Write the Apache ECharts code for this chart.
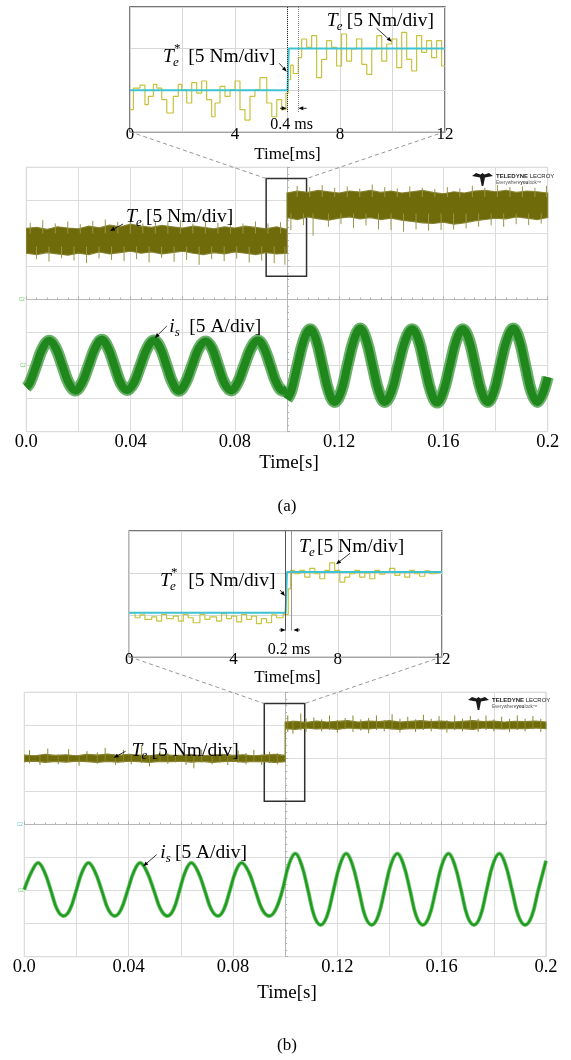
<!DOCTYPE html>
<html>
<head>
<meta charset="utf-8">
<script src="https://cdn.jsdelivr.net/npm/echarts@6/dist/echarts.min.js"></script>
<style>
html, body { margin: 0; padding: 0; background: #fff; }
#c { width: 571px; height: 1060px; }
</style>
</head>
<body>
<div id="c"></div>
<script>
// ---------------- data ----------------
// Zoomed views: time in ms, torque in divisions (sample-and-hold trace)
const insetTickLabels = ['0', '4', '8', '12'];
const mainTickLabels = ['0.0', '0.04', '0.08', '0.12', '0.16', '0.2'];

const insetA_t = [0,0.13,0.38,0.57,0.70,0.89,1.02,1.21,1.40,1.65,1.84,1.97,2.16,2.35,2.54,2.73,2.92,3.11,3.24,3.43,3.62,3.81,4.00,4.19,4.38,4.57,4.76,4.95,5.21,5.40,5.59,5.78,5.94,6.03,6.12,6.22,6.41,6.54,6.73,6.92,7.11,7.30,7.49,7.68,7.87,8.06,8.25,8.44,8.63,8.83,9.02,9.21,9.40,9.59,9.78,9.97,10.16,10.35,10.54,10.73,10.92,11.11,11.30,11.49,11.68,11.87,12];
const insetA_Te = [0.53,1.05,1.12,0.65,0.85,1.14,1.05,0.77,0.45,0.85,1.14,1.01,0.69,1.18,0.93,1.22,0.77,0.36,0.69,1.09,0.85,1.01,1.22,0.53,0.28,0.85,1.01,1.30,0.69,0.36,0.77,0.53,0.93,1.25,1.60,1.40,1.78,2.23,2.03,2.31,1.30,1.74,2.19,2.03,1.58,2.35,1.70,1.99,2.23,1.62,1.38,1.99,2.31,1.70,2.11,2.23,1.54,2.39,1.74,1.46,2.31,1.91,2.19,1.78,2.19,1.58,1.58];
const insetA_refT = [0, 6.0, 6.05, 12];
const insetA_ref = [1, 1, 2, 2];
const insetA_marks = [6.0, 6.4];

const insetB_t = [0,0.22,0.41,0.60,0.86,1.05,1.24,1.43,1.69,1.88,2.07,2.26,2.45,2.71,2.90,3.09,3.35,3.54,3.73,3.92,4.12,4.31,4.50,4.69,4.88,5.07,5.27,5.46,5.65,5.90,6.10,6.19,6.35,6.54,6.73,6.93,7.12,7.31,7.50,7.69,7.88,8.08,8.27,8.46,8.65,8.84,9.04,9.23,9.42,9.61,9.80,9.99,10.19,10.38,10.57,10.76,10.95,11.14,11.34,11.53,11.72,12];
const insetB_Te = [1.05,0.93,1.00,0.89,0.95,0.85,1.01,0.91,0.97,0.85,1.01,0.93,0.81,1.01,0.89,0.95,0.85,1.03,0.91,0.97,0.83,1.01,0.89,0.97,0.79,0.91,0.81,1.00,0.93,1.01,1.62,2.06,1.98,2.06,1.90,2.11,1.98,1.86,2.06,2.24,2.06,1.78,1.90,1.98,2.06,1.90,2.00,1.86,2.06,1.97,2.02,2.11,1.94,2.02,1.90,2.06,1.98,1.92,2.05,1.98,2.02,2.02];
const insetB_refT = [0, 6.0, 6.05, 12];
const insetB_ref = [1.05, 1.05, 2.02, 2.02];
const insetB_marks = [6.0, 6.2];

// Scope captures: time in s, values in divisions from screen centre
const bandT = [0,0.004,0.008,0.012,0.016,0.02,0.024,0.028,0.032,0.036,0.04,0.044,0.048,0.052,0.056,0.06,0.064,0.068,0.072,0.076,0.08,0.084,0.088,0.092,0.096,0.1,
               0.1,0.104,0.108,0.112,0.116,0.12,0.124,0.128,0.132,0.136,0.14,0.144,0.148,0.152,0.156,0.16,0.164,0.168,0.172,0.176,0.18,0.184,0.188,0.192,0.196,0.2];
const torqueA_hi = [2.15,2.18,2.12,2.2,2.16,2.14,2.22,2.17,2.25,2.2,2.28,2.22,2.18,2.24,2.2,2.16,2.22,2.18,2.14,2.2,2.16,2.22,2.18,2.14,2.2,2.12,
                    3.22,3.28,3.24,3.3,3.26,3.22,3.28,3.25,3.3,3.24,3.28,3.22,3.26,3.3,3.24,3.2,3.26,3.22,3.28,3.3,3.26,3.3,3.24,3.28,3.26,3.22];
const torqueA_lo = [1.4,1.36,1.42,1.38,1.34,1.4,1.36,1.44,1.38,1.42,1.46,1.4,1.44,1.38,1.42,1.46,1.4,1.36,1.42,1.38,1.44,1.4,1.36,1.42,1.38,1.4,
                    2.48,2.42,2.5,2.44,2.4,2.46,2.5,2.44,2.48,2.42,2.46,2.4,2.36,2.32,2.3,2.34,2.28,2.32,2.38,2.42,2.46,2.44,2.5,2.46,2.42,2.48];
// noise excursions outside the dense band: [t, low, high]
const torqueA_spikes = [
  [0.0015,2.0,2.32],[0.0039,1.22,1.6],[0.0063,2.0,2.4],[0.0087,1.15,1.6],[0.0111,2.0,2.3],[0.0135,1.25,1.6],[0.0159,2.0,2.36],[0.0183,1.18,1.6],[0.0207,2.0,2.28],[0.0231,1.1,1.6],
  [0.0255,2.0,2.38],[0.0279,1.24,1.6],[0.0303,2.0,2.42],[0.0327,1.2,1.6],[0.0351,2.0,2.35],[0.0375,1.16,1.6],[0.0399,2.0,2.44],[0.0423,1.22,1.6],[0.0447,2.0,2.3],[0.0471,1.12,1.6],
  [0.0495,2.0,2.38],[0.0519,1.26,1.6],[0.0543,2.0,2.34],[0.0567,1.14,1.6],[0.0591,2.0,2.4],[0.0615,1.2,1.6],[0.0639,2.0,2.3],[0.0663,1.05,1.6],[0.0687,2.0,2.36],[0.0711,1.22,1.6],
  [0.0735,2.0,2.32],[0.0759,1.16,1.6],[0.0783,2.0,2.4],[0.0807,1.24,1.6],[0.0831,2.0,2.3],[0.0855,1.12,1.6],[0.0879,2.0,2.36],[0.0903,1.18,1.6],[0.0927,2.0,2.3],[0.0951,1.1,1.6],
  [0.0975,2.0,2.34],[0.0992,1.05,1.6],
  [0.1015,2.1,2.6],[0.1039,3.1,3.44],[0.1063,2.25,2.6],[0.1087,3.1,3.4],[0.1100,1.93,2.6],[0.1135,3.1,3.46],[0.1159,2.2,2.6],[0.1183,3.1,3.38],[0.1207,2.28,2.6],[0.1231,3.1,3.42],
  [0.1255,2.16,2.6],[0.1279,3.1,3.36],[0.1303,2.24,2.6],[0.1327,3.1,3.48],[0.1351,2.12,2.6],[0.1375,3.1,3.4],[0.1399,2.1,2.6],[0.1423,3.1,3.36],[0.1447,2.05,2.6],[0.1471,3.1,3.42],
  [0.1495,2.12,2.6],[0.1519,3.1,3.38],[0.1543,2.08,2.6],[0.1567,3.1,3.35],[0.1591,2.1,2.6],[0.1615,3.1,3.4],[0.1639,2.12,2.6],[0.1663,3.1,3.36],[0.1687,2.15,2.6],[0.1711,3.1,3.44],
  [0.1735,2.2,2.6],[0.1759,3.1,3.38],[0.1783,2.24,2.6],[0.1807,3.1,3.46],[0.1831,2.2,2.6],[0.1855,3.1,3.4],[0.1879,2.28,2.6],[0.1903,3.1,3.42],[0.1927,2.25,2.6],[0.1951,3.1,3.38],
  [0.1975,2.3,2.6],[0.1995,3.1,3.44]];

const torqueB_hi = [2.1,2.08,2.12,2.09,2.11,2.08,2.12,2.1,2.13,2.09,2.12,2.1,2.08,2.12,2.1,2.09,2.12,2.08,2.1,2.12,2.09,2.11,2.08,2.1,2.12,2.09,
                    3.1,3.12,3.09,3.13,3.1,3.12,3.14,3.1,3.13,3.11,3.14,3.1,3.12,3.14,3.11,3.13,3.1,3.12,3.14,3.11,3.13,3.1,3.12,3.11,3.13,3.1];
const torqueB_lo = [1.9,1.92,1.88,1.91,1.89,1.92,1.9,1.88,1.91,1.89,1.92,1.9,1.88,1.91,1.9,1.92,1.89,1.91,1.88,1.9,1.92,1.89,1.91,1.9,1.88,1.9,
                    2.9,2.88,2.92,2.89,2.91,2.88,2.92,2.9,2.89,2.92,2.9,2.88,2.91,2.9,2.92,2.89,2.91,2.9,2.88,2.92,2.9,2.89,2.91,2.9,2.92,2.9];
const torqueB_spikes = [[0.002,1.85,2.25],[0.006,1.8,2.1],[0.009,1.9,2.3],[0.013,1.82,2.12],[0.017,1.88,2.28],[0.021,1.78,2.1],[0.024,1.9,2.22],[0.028,1.84,2.18],[0.031,1.9,2.32],[0.035,1.8,2.1],[0.038,1.88,2.26],[0.041,1.82,2.14],[0.045,1.86,2.4],[0.048,1.76,2.1],[0.052,1.9,2.24],[0.055,1.84,2.16],[0.058,1.88,2.3],[0.062,1.8,2.12],[0.065,1.7,2.1],[0.068,1.88,2.26],[0.072,1.82,2.14],[0.075,1.88,2.28],[0.078,1.8,2.12],[0.082,1.86,2.24],[0.085,1.82,2.16],[0.088,1.9,2.26],[0.091,1.8,2.12],[0.094,1.86,2.2],[0.097,1.82,2.16],
                        [0.101,2.8,3.3],[0.103,2.75,3.15],[0.106,2.85,3.36],[0.108,2.8,3.2],[0.111,2.88,3.24],[0.114,2.82,3.18],[0.117,2.86,3.3],[0.12,2.78,3.16],[0.123,2.88,3.22],[0.126,2.8,3.3],[0.129,2.84,3.18],[0.132,2.76,3.22],[0.135,2.86,3.3],[0.138,2.82,3.16],[0.141,2.86,3.34],[0.144,2.78,3.2],[0.147,2.88,3.26],[0.15,2.8,3.18],[0.153,2.86,3.32],[0.156,2.82,3.2],[0.159,2.88,3.28],[0.162,2.78,3.16],[0.165,2.86,3.3],[0.168,2.82,3.2],[0.171,2.88,3.28],[0.174,2.8,3.2],[0.177,2.86,3.3],[0.18,2.82,3.18],[0.183,2.88,3.26],[0.186,2.8,3.2],[0.189,2.86,3.3],[0.192,2.82,3.2],[0.195,2.88,3.28],[0.198,2.8,3.2]];

const currentA_preT = [0,0.0013,0.0038,0.0063,0.0088,0.0113,0.0138,0.0163,0.0188,0.0213,0.0239,0.0264,0.0290,0.0314,0.0338,0.0362,0.0386,0.0412,0.0438,0.0464,0.0490,0.0514,0.0538,0.0562,0.0585,0.0610,0.0636,0.0662,0.0688,0.0712,0.0736,0.0760,0.0785,0.0810,0.0836,0.0862,0.0888,0.0912,0.0936,0.0960,0.0985,0.1];
const currentA_pre  = [-2.66,-2.53,-2.0,-1.47,-1.25,-1.47,-2.0,-2.53,-2.75,-2.53,-2.0,-1.47,-1.22,-1.47,-2.0,-2.53,-2.74,-2.53,-2.0,-1.47,-1.24,-1.47,-2.0,-2.53,-2.76,-2.53,-2.0,-1.47,-1.27,-1.47,-2.0,-2.53,-2.75,-2.53,-2.0,-1.47,-1.24,-1.47,-2.0,-2.53,-2.76,-2.72];
const currentA_postT = [0.1,0.1016,0.1040,0.1065,0.1089,0.1112,0.1136,0.1160,0.1183,0.1208,0.1232,0.1257,0.1281,0.1304,0.1328,0.1352,0.1375,0.1401,0.1427,0.1454,0.1480,0.1504,0.1528,0.1552,0.1576,0.1600,0.1625,0.1650,0.1674,0.1698,0.1722,0.1746,0.1770,0.1794,0.1818,0.1843,0.1868,0.1891,0.1914,0.1937,0.1960,0.2];
const currentA_post  = [-3.02,-2.78,-2.0,-1.22,-0.9,-1.22,-2.0,-2.78,-3.1,-2.78,-2.0,-1.22,-0.88,-1.22,-2.0,-2.78,-3.1,-2.78,-2.0,-1.22,-0.9,-1.22,-2.0,-2.78,-3.12,-2.78,-2.0,-1.22,-0.9,-1.22,-2.0,-2.78,-3.1,-2.78,-2.0,-1.22,-0.88,-1.22,-2.0,-2.78,-3.1,-2.35];

const currentB_t = [0,0.0028,0.0053,0.0077,0.0102,0.0126,0.0151,0.0175,0.0199,0.0222,0.0246,0.0271,0.0297,0.0322,0.0347,0.0371,0.0396,0.0420,0.0444,0.0470,0.0497,0.0523,0.0549,0.0572,0.0595,0.0617,0.0640,0.0666,0.0692,0.0717,0.0743,0.0765,0.0788,0.0810,0.0833,0.0860,0.0886,0.0912,0.0939,0.0964,0.0989,
                    0.1014,0.1039,0.1063,0.1088,0.1112,0.1136,0.1160,0.1185,0.1210,0.1234,0.1258,0.1283,0.1307,0.1332,0.1356,0.1381,0.1405,0.1430,0.1454,0.1479,0.1503,0.1528,0.1552,0.1577,0.1601,0.1626,0.1650,0.1675,0.1699,0.1724,0.1748,0.1772,0.1796,0.1821,0.1845,0.1870,0.1895,0.1920,0.1945,0.1970,0.2];
const currentB   = [-1.97,-1.43,-1.16,-1.43,-2.0,-2.57,-2.77,-2.57,-2.0,-1.43,-1.16,-1.43,-2.0,-2.57,-2.77,-2.57,-2.0,-1.43,-1.16,-1.43,-2.0,-2.57,-2.77,-2.57,-2.0,-1.43,-1.16,-1.43,-2.0,-2.57,-2.77,-2.57,-2.0,-1.43,-1.16,-1.43,-2.0,-2.57,-2.77,-2.57,-2.0,
                    -1.22,-0.88,-1.22,-2.0,-2.78,-3.04,-2.78,-2.0,-1.22,-0.88,-1.22,-2.0,-2.78,-3.04,-2.78,-2.0,-1.22,-0.88,-1.22,-2.0,-2.78,-3.04,-2.78,-2.0,-1.22,-0.88,-1.22,-2.0,-2.78,-3.04,-2.78,-2.0,-1.22,-0.88,-1.22,-2.0,-2.78,-3.04,-2.78,-2.0,-1.1];

// zoom window marked on each capture [t0, t1] and [y0, y1]
const zoomWinT = [0.092, 0.1075];
const zoomWinY = [0.7, 3.66];

// ---------------- helpers ----------------
const FONT = 'Liberation Serif';
const zip = (t, v) => t.map((x, i) => [x, v[i]]);

function tickFmt(labels, step) {
  return v => { const k = v / step, r = Math.round(k); return Math.abs(k - r) < 1e-6 ? (labels[r] || '') : ''; };
}

function insetX(gi) {
  return { type: 'value', gridIndex: gi, min: 0, max: 12, interval: 2,
    axisLine: { show: false }, axisTick: { show: false },
    splitLine: { show: true, lineStyle: { color: '#d6d6d6', width: 1 } },
    axisLabel: { margin: -6, color: '#000', fontFamily: FONT, fontSize: 17,
      showMinLabel: true, showMaxLabel: true, hideOverlap: false,
      formatter: tickFmt(insetTickLabels, 4) } };
}
function insetY(gi) {
  return { type: 'value', gridIndex: gi, min: 0, max: 3, interval: 1,
    axisLine: { show: false }, axisTick: { show: false }, axisLabel: { show: false },
    splitLine: { show: true, lineStyle: { color: '#d6d6d6', width: 1 } } };
}
function mainX(gi) {
  return { type: 'value', gridIndex: gi, min: 0, max: 0.2, interval: 0.02,
    axisLine: { show: false, onZero: false }, axisTick: { show: false },
    splitLine: { show: true, lineStyle: { color: '#dcdcdc', width: 1 } },
    axisLabel: { margin: 1, color: '#000', fontFamily: FONT, fontSize: 18.5,
      showMinLabel: true, showMaxLabel: true, hideOverlap: false,
      formatter: tickFmt(mainTickLabels, 0.04) } };
}
function centreX(gi, yIdx) {
  return { type: 'value', gridIndex: gi, min: 0, max: 0.2, interval: 0.02,
    axisLine: { show: true, onZero: true, onZeroAxisIndex: yIdx, lineStyle: { color: '#b8b8b8', width: 1 } },
    axisTick: { show: true, length: 3, lineStyle: { color: '#b0b0b0' } },
    minorTick: { show: true, splitNumber: 5, length: 2, lineStyle: { color: '#b0b0b0' } },
    axisLabel: { show: false }, splitLine: { show: false } };
}
function hiddenX(gi) {
  return { type: 'value', gridIndex: gi, min: -0.1, max: 0.1, show: false };
}
function mainY(gi) {
  return { type: 'value', gridIndex: gi, min: -4, max: 4, interval: 1,
    axisLine: { show: false, onZero: false }, axisTick: { show: false }, axisLabel: { show: false },
    splitLine: { show: true, lineStyle: { color: '#dcdcdc', width: 1 } } };
}
function centreY(gi, xIdx) {
  return { type: 'value', gridIndex: gi, min: -4, max: 4, interval: 1,
    axisLine: { show: true, onZero: true, onZeroAxisIndex: xIdx, lineStyle: { color: '#b8b8b8', width: 1 } },
    axisTick: { show: true, length: 3, lineStyle: { color: '#b0b0b0' } },
    minorTick: { show: true, splitNumber: 5, length: 2, lineStyle: { color: '#b0b0b0' } },
    axisLabel: { show: false }, splitLine: { show: false } };
}

function bandSeries(xi, yi, t, lo, hi, fill, stroke) {
  return { type: 'custom', xAxisIndex: xi, yAxisIndex: yi, z: 2, silent: true, clip: true,
    data: [[t[0], lo[0]]],
    renderItem: (params, api) => {
      const pts = [];
      for (let i = 0; i < t.length; i++) pts.push(api.coord([t[i], hi[i]]));
      for (let i = t.length - 1; i >= 0; i--) pts.push(api.coord([t[i], lo[i]]));
      return { type: 'polygon', shape: { points: pts }, style: { fill: fill, stroke: stroke, lineWidth: 1.2 } };
    } };
}
function spikeSeries(xi, yi, spikes, color) {
  return { type: 'custom', xAxisIndex: xi, yAxisIndex: yi, z: 2, silent: true, clip: true,
    data: spikes, encode: { x: 0, y: [1, 2] },
    renderItem: (params, api) => {
      const a = api.coord([api.value(0), api.value(1)]);
      const b = api.coord([api.value(0), api.value(2)]);
      return { type: 'line', shape: { x1: a[0], y1: a[1], x2: b[0], y2: b[1] }, style: { stroke: color, lineWidth: 1 } };
    } };
}
function traceLine(xi, yi, data, color, width, z, extra) {
  return Object.assign({ type: 'line', xAxisIndex: xi, yAxisIndex: yi, data: data, symbol: 'none',
    silent: true, z: z, lineStyle: { color: color, width: width, cap: 'butt' }, animation: false }, extra || {});
}
function vMarks(times, yTop, yBot, colors, types) {
  return { silent: true, symbol: 'none', label: { show: false },
    data: times.map((t, i) => [
      { coord: [t, yTop], lineStyle: { color: colors[i], type: types[i], width: 1 } },
      { coord: [t, yBot] }]) };
}
function boxArea() {
  return { silent: true, label: { show: false },
    itemStyle: { color: 'rgba(0,0,0,0)', borderColor: '#303030', borderWidth: 1.5 },
    data: [[{ coord: [zoomWinT[0], zoomWinY[1]] }, { coord: [zoomWinT[1], zoomWinY[0]] }]] };
}

// axis indices
// x: 0 insetA, 1 mainA, 2 mainA centre, 3 mainA hidden, 4 insetB, 5 mainB, 6 mainB centre, 7 mainB hidden
// y: 0 insetA, 1 mainA, 2 mainA centre, 3 insetB, 4 mainB, 5 mainB centre
const option = {
  animation: false,
  backgroundColor: '#fff',
  grid: [
    { left: 130, top: 7, width: 315, height: 124.7, show: true, borderColor: '#4a4a4a', borderWidth: 1.4 },
    { left: 26.3, top: 167.3, width: 521.4, height: 264.4, show: true, borderColor: '#cdcdcd', borderWidth: 1 },
    { left: 129.3, top: 531, width: 312.7, height: 125.7, show: true, borderColor: '#4a4a4a', borderWidth: 1.4 },
    { left: 24.3, top: 692.3, width: 521.7, height: 264.4, show: true, borderColor: '#cdcdcd', borderWidth: 1 }
  ],
  xAxis: [insetX(0), mainX(1), centreX(1, 1), hiddenX(1), insetX(2), mainX(3), centreX(3, 4), hiddenX(3)],
  yAxis: [insetY(0), mainY(1), centreY(1, 3), insetY(2), mainY(3), centreY(3, 7)],
  series: [
    // zoomed view (a)
    traceLine(0, 0, zip(insetA_t, insetA_Te), '#c8c23e', 1.2, 3,
      { step: 'end', markLine: vMarks(insetA_marks, 3, 0.45, ['#333', '#888'], ['dotted', 'dotted']) }),
    traceLine(0, 0, zip(insetA_refT, insetA_ref), '#3ec3d3', 2, 4),
    // capture (a)
    bandSeries(1, 1, bandT, torqueA_lo, torqueA_hi, '#6f6a0a', 'rgba(128,124,40,0.9)'),
    spikeSeries(1, 1, torqueA_spikes, '#99954a'),
    traceLine(1, 1, zip(currentA_preT, currentA_pre), 'rgba(55,150,55,0.75)', 12, 4, { smooth: 0.4 }),
    traceLine(1, 1, zip(currentA_postT, currentA_post), 'rgba(55,150,55,0.75)', 12, 4, { smooth: 0.4 }),
    traceLine(1, 1, zip(currentA_preT, currentA_pre), '#1f871c', 8, 5, { smooth: 0.4, markArea: boxArea() }),
    traceLine(1, 1, zip(currentA_postT, currentA_post), '#1f871c', 8, 5, { smooth: 0.4 }),
    // zoomed view (b)
    traceLine(4, 3, zip(insetB_t, insetB_Te), '#c8c23e', 1.2, 3,
      { step: 'end', markLine: vMarks(insetB_marks, 3, 0.62, ['#555', '#999'], ['solid', 'solid']) }),
    traceLine(4, 3, zip(insetB_refT, insetB_ref), '#3ec3d3', 2, 4),
    // capture (b)
    bandSeries(5, 4, bandT, torqueB_lo, torqueB_hi, '#6f6a0a', '#85812e'),
    spikeSeries(5, 4, torqueB_spikes, '#8d8930'),
    traceLine(5, 4, zip(currentB_t, currentB), 'rgba(70,175,70,0.7)', 4, 4, { smooth: 0.4 }),
    traceLine(5, 4, zip(currentB_t, currentB), '#1f9c1f', 2.4, 5, { smooth: 0.4, markArea: boxArea() })
  ]
};

const chart = echarts.init(document.getElementById('c'), null, { renderer: 'canvas', width: 571, height: 1060 });
chart.setOption(option);

// ---------------- annotations ----------------
const els = [];
function txt(x, y, text, size, opts) {
  els.push({ type: 'text', x: x, y: y, silent: true, z: 20,
    style: Object.assign({ text: text, fill: '#000', fontFamily: FONT, fontSize: size,
      align: 'left', verticalAlign: 'middle' }, (opts && opts.style) || {}) });
}
function arrow(x1, y1, x2, y2) {
  const dx = x2 - x1, dy = y2 - y1, L = Math.hypot(dx, dy), ux = dx / L, uy = dy / L;
  const hl = 5, hw = 2;
  const bx = x2 - ux * hl, by = y2 - uy * hl;
  els.push({ type: 'line', silent: true, z: 20, shape: { x1: x1, y1: y1, x2: bx, y2: by },
    style: { stroke: '#000', lineWidth: 0.8 } });
  els.push({ type: 'polygon', silent: true, z: 20,
    shape: { points: [[x2, y2], [bx - uy * hw, by + ux * hw], [bx + uy * hw, by - ux * hw]] },
    style: { fill: '#000' } });
}
// symbol with italic letter, subscript and optional superscript, then the scale text
function quantity(x, y, letter, sub, sup, rest, restX) {
  const it = { style: { fontStyle: 'italic' } };
  txt(x, y, letter, 19.5, it);
  const lw = letter === 'T' ? 10 : 5.5;
  txt(x + lw, y + 5.5, sub, 13, it);
  if (sup) txt(x + lw + 1, y - 8, sup, 13);
  txt(restX, y, rest, 19.5);
}
function centred(x, y, text, size) {
  txt(x, y, text, size, { style: { align: 'center' } });
}
function logo(x, y) {
  els.push({ type: 'polygon', silent: true, z: 20, x: x, y: y,
    shape: { points: [[0,3],[4,0],[8.5,1.5],[10.5,0],[12.5,1.5],[17,0],[21,3],[13,4.5],[11.3,13],[9.7,13],[8,4.5]] },
    style: { fill: '#1a1a1a' } });
  els.push({ type: 'text', silent: true, z: 20, x: x + 24, y: y + 3.5,
    style: { text: '{b|TELEDYNE} LECROY', fill: '#222', fontFamily: 'Liberation Sans', fontSize: 6,
      verticalAlign: 'middle', rich: { b: { fontWeight: 'bold', fontSize: 6, fill: '#222', fontFamily: 'Liberation Sans' } } } });
  els.push({ type: 'text', silent: true, z: 20, x: x + 24, y: y + 9.5,
    style: { text: 'Everywhere{b|you}look\u2122', fill: '#555', fontFamily: 'Liberation Sans', fontSize: 4.6,
      verticalAlign: 'middle', rich: { b: { fontWeight: 'bold', fontSize: 4.6, fill: '#444', fontFamily: 'Liberation Sans' } } } });
}
function chMark(x, y, color) {
  txt(x, y, 'C2', 4.5, { style: { fill: color, fontFamily: 'Liberation Sans' } });
}

// zoomed view (a) labels
quantity(326.7, 21, 'T', 'e', null, '[5 Nm/div]', 346.7);
arrow(376.7, 28.3, 391.7, 41.7);
quantity(163, 56.7, 'T', 'e', '*', '[5 Nm/div]', 188.3);
arrow(279.3, 63.3, 286.7, 71.7);
arrow(280, 108.3, 286.7, 108.3);
arrow(306.7, 108.3, 298.3, 108.3);
centred(291.7, 124.5, '0.4 ms', 16);
centred(287.5, 155, 'Time[ms]', 17);

// capture (a) labels
quantity(126, 217, 'T', 'e', null, '[5 Nm/div]', 146);
arrow(123, 224, 110, 231);
quantity(169.3, 327, 'i', 's', null, '[5 A/div]', 189.3);
arrow(166.8, 326, 154.8, 338);
centred(289, 463, 'Time[s]', 19);
centred(287, 507, '(a)', 17);
logo(472, 173);
chMark(19, 300, '#6c6');
chMark(20, 366, '#6c6');

// zoomed view (b) labels
quantity(299, 547, 'T', 'e', null, '[5 Nm/div]', 317);
arrow(350, 553.3, 336, 564.3);
quantity(160, 581, 'T', 'e', '*', '[5 Nm/div]', 188.3);
arrow(280, 590, 285, 596);
arrow(279.3, 630, 285.7, 630);
arrow(300, 630, 293.3, 630);
centred(289, 649.5, '0.2 ms', 16);
centred(287.5, 678, 'Time[ms]', 17);

// capture (b) labels
quantity(131.5, 750.5, 'T', 'e', null, '[5 Nm/div]', 151.6);
arrow(125.7, 751.2, 113.6, 757.8);
quantity(160.3, 852.8, 'i', 's', null, '[5 A/div]', 174.9);
arrow(156.7, 854.6, 143.2, 866.2);
centred(287, 993, 'Time[s]', 19);
centred(287, 1046, '(b)', 17);
logo(468, 697);
chMark(17, 825, '#6cc');
chMark(18, 891, '#6c6');

// dashed connectors from the zoomed view to the marked window
function connectors(insetX, insetY, mainXi, mainYi) {
  const bl = chart.convertToPixel({ xAxisIndex: insetX, yAxisIndex: insetY }, [0, 0]);
  const br = chart.convertToPixel({ xAxisIndex: insetX, yAxisIndex: insetY }, [12, 0]);
  const tl = chart.convertToPixel({ xAxisIndex: mainXi, yAxisIndex: mainYi }, [zoomWinT[0], zoomWinY[1]]);
  const tr = chart.convertToPixel({ xAxisIndex: mainXi, yAxisIndex: mainYi }, [zoomWinT[1], zoomWinY[1]]);
  [[bl, tl], [br, tr]].forEach(([p, q]) => {
    els.push({ type: 'line', silent: true, z: 1, shape: { x1: p[0], y1: p[1], x2: q[0], y2: q[1] },
      style: { stroke: '#8a8a8a', lineWidth: 0.9, lineDash: [4, 3] } });
  });
}
connectors(0, 0, 1, 1);
connectors(4, 3, 5, 4);

chart.setOption({ graphic: { elements: els } });
</script>
</body>
</html>
